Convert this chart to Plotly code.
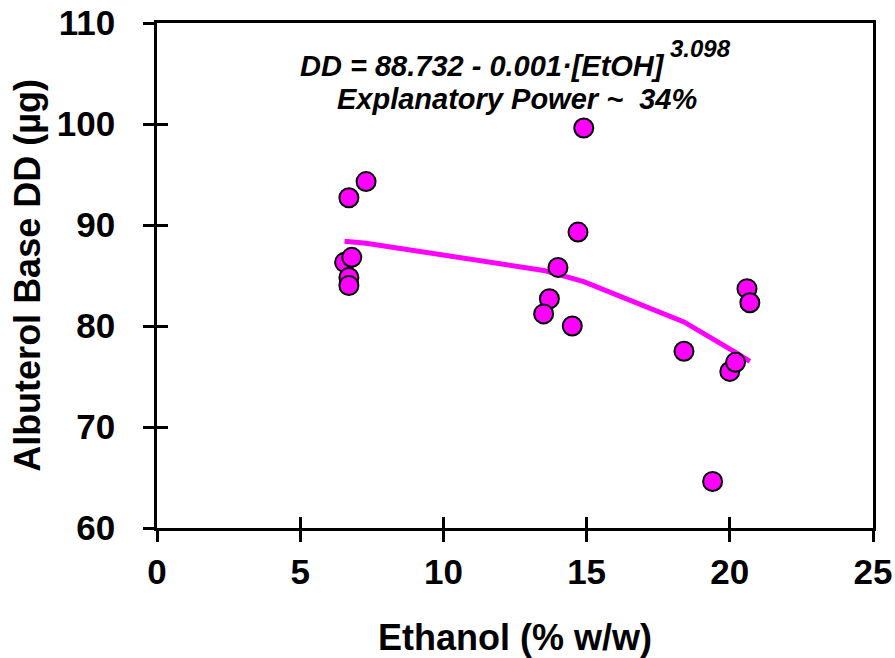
import plotly.graph_objects as go

# Measured data (Ethanol % w/w vs Albuterol base delivered dose, µg)
ethanol = [7.3, 6.7, 6.55, 6.8, 6.7, 6.7, 14.9, 14.7, 14.0, 13.7, 13.5, 14.5,
           18.4, 20.0, 20.2, 20.6, 20.7, 19.4]
dd = [94.3, 92.7, 86.3, 86.8, 84.8, 84.0, 99.6, 89.3, 85.8, 82.7, 81.2, 80.0,
      77.5, 75.5, 76.4, 83.7, 82.3, 64.6]

# Fitted curve
fit_x = [6.55, 7.3, 13.5, 14.0, 14.5, 14.9, 18.4, 20.0, 20.2, 20.7]
fit_y = [88.4, 88.2, 85.5, 85.1, 84.8, 84.4, 80.4, 77.8, 77.4, 76.5]

x_ticks = [0, 5, 10, 15, 20, 25]
y_ticks = [60, 70, 80, 90, 100, 110]

FONT = "Liberation Sans, Arial, sans-serif"
MAG = "#FF00FF"

fig = go.Figure()
fig.add_trace(go.Scatter(x=fit_x, y=fit_y, mode="lines",
                         line=dict(color=MAG, width=5), showlegend=False,
                         hoverinfo="skip"))
fig.add_trace(go.Scatter(x=ethanol, y=dd, mode="markers",
                         marker=dict(color=MAG, size=19,
                                     line=dict(color="black", width=2)),
                         showlegend=False))
# helper trace to register the overlay axes (inside half of crossing ticks)
fig.add_trace(go.Scatter(x=[], y=[], xaxis="x2", yaxis="y2", showlegend=False))

tick_font = dict(family=FONT, size=35, color="black", weight="bold")
title_font = dict(family=FONT, size=36, color="black", weight="bold")
axis_common = dict(showgrid=False, zeroline=False, linecolor="black",
                   linewidth=2.5, tickcolor="black", tickwidth=2.5,
                   ticklen=11, ticks="outside", automargin=False,
                   ticklabeloverflow="allow", tickfont=tick_font)

fig.update_layout(
    width=895, height=658,
    margin=dict(l=157, r=22, t=23, b=130),
    paper_bgcolor="white", plot_bgcolor="white",
    xaxis=dict(**axis_common, range=[0, 25], tickvals=x_ticks, mirror=True,
               ticklabelstandoff=0,
               title=dict(text="Ethanol (% w/w)", standoff=44, font=title_font)),
    yaxis=dict(**axis_common, range=[60, 110], tickvals=y_ticks, mirror=True,
               ticklabelstandoff=21,
               title=dict(text="Albuterol Base DD (µg)", standoff=6, font=title_font)),
    xaxis2=dict(overlaying="x", anchor="y", side="bottom", range=[0, 25],
                tickvals=x_ticks, ticks="inside", ticklen=11, tickwidth=2.5,
                tickcolor="black", showticklabels=False, showgrid=False,
                zeroline=False, showline=False, automargin=False),
    yaxis2=dict(overlaying="y", anchor="x", side="left", range=[60, 110],
                tickvals=y_ticks, ticks="inside", ticklen=11, tickwidth=2.5,
                tickcolor="black", showticklabels=False, showgrid=False,
                zeroline=False, showline=False, automargin=False),
)

ann_font = dict(family=FONT, size=29, color="black", weight="bold", style="italic")
fig.add_annotation(xref="paper", yref="paper", x=0.197, y=0.915, xanchor="left",
                   yanchor="middle", showarrow=False,
                   text="DD = 88.732 - 0.001·[EtOH]", font=ann_font)
fig.add_annotation(xref="paper", yref="paper", x=0.714, y=0.949, xanchor="left",
                   yanchor="middle", showarrow=False,
                   text="3.098", font=dict(ann_font, size=24))
fig.add_annotation(xref="paper", yref="paper", x=0.503, y=0.849, xanchor="center",
                   yanchor="middle", showarrow=False,
                   text="Explanatory Power ~  34%", font=ann_font)

fig.write_html("out.html",
               config={"displayModeBar": False},
               post_script="document.body.style.margin='0';"
                           "document.body.style.overflow='hidden';")
